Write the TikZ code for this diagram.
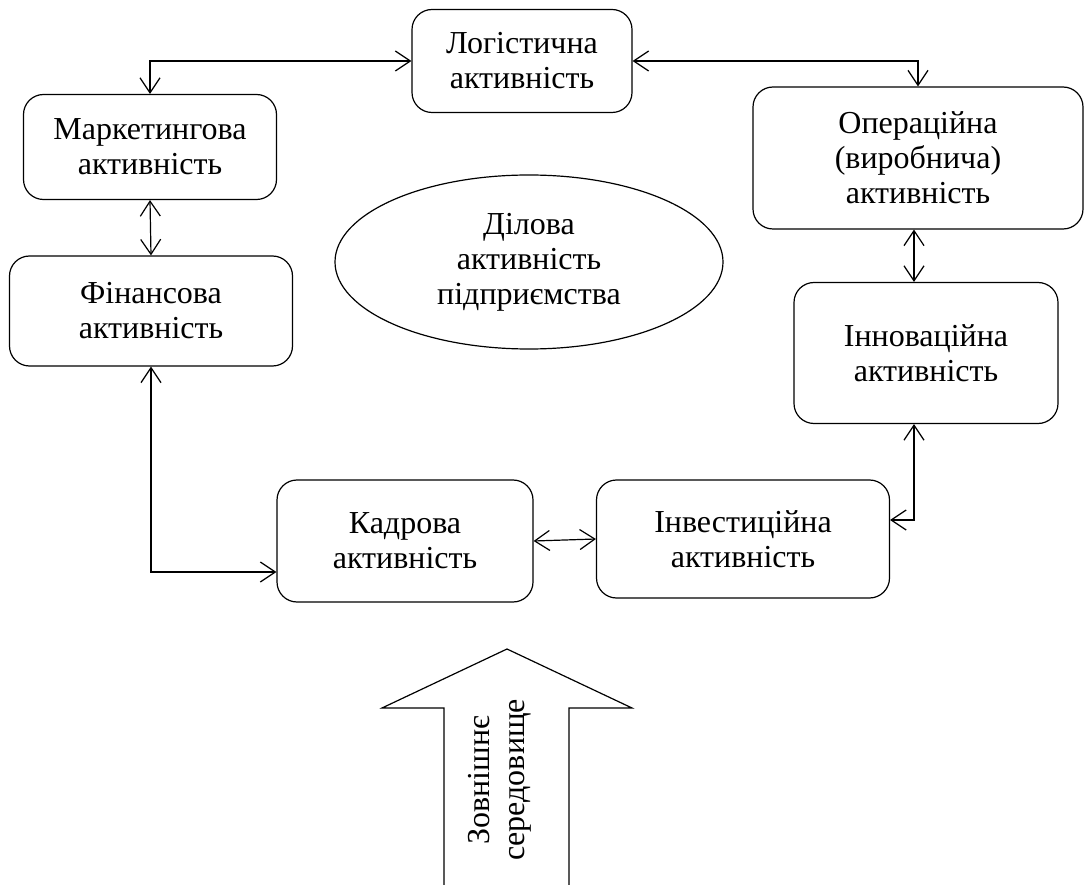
\documentclass[tikz,border=0pt]{standalone}
\usepackage{fontspec}
\setmainfont{Liberation Serif}
\usetikzlibrary{arrows.meta,shapes.geometric}

\tikzset{
	activity/.style={draw, rounded corners=20pt, align=center, inner sep=0pt},
	link/.style={<->, >={Straight Barb[length=15pt,width=20pt]}},
}

\begin{document}
\begin{tikzpicture}[x=1pt, y=-1pt, line width=1.2pt,
		font=\fontsize{32}{35}\selectfont]
	\useasboundingbox (0,0) rectangle (1085,885);
	\node[activity, minimum width=220pt, minimum height=103pt] (Log) at (522,61) {Логістична\\активність};
	\node[activity, minimum width=253pt, minimum height=105pt] (Mark) at (150,147) {Маркетингова\\активність};
	\node[activity, minimum width=330pt, minimum height=142pt] (Oper) at (918,158) {Операційна\\(виробнича)\\активність};
	\node[activity, minimum width=283pt, minimum height=110pt] (Fin) at (151,311) {Фінансова\\активність};
	\node[activity, minimum width=264pt, minimum height=141pt] (Innov) at (926,353) {Інноваційна\\активність};
	\node[activity, minimum width=256pt, minimum height=122pt] (Kadr) at (405,541) {Кадрова\\активність};
	\node[activity, minimum width=293pt, minimum height=118pt] (Inv) at (743,539) {Інвестиційна\\активність};
	\node[draw, ellipse, inner sep=0pt, minimum width=388pt, minimum height=174pt, align=center] (Core) at (529,262) {Ділова\\активність\\підприємства};
	\path[link]
		(Log.west) edge[to path={-| (\tikztotarget)}] (Mark.north)
		(Log.east) edge[to path={-| (\tikztotarget)}] (Oper.north)
		(Mark.south) edge (Fin.north)
		(Fin.south) edge[to path={|- (\tikztotarget)}] ([yshift=-31pt]Kadr.west)
		(Kadr.east) edge (Inv.west)
		([yshift=19pt]Inv.east) edge[to path={-| (\tikztotarget)}] ([xshift=-12pt]Innov.south)
		([xshift=-4pt]Oper.south) edge ([xshift=-12pt]Innov.north);
	% outer environment arrow
	\draw (444,885) -- (444,708) -- (382,708) -- (507,649) -- (632,708) -- (569,708) -- (569,885);
	\node[rotate=90, align=center] (Env) at (500,780) {Зовнішнє\\середовище};
\end{tikzpicture}
\end{document}
